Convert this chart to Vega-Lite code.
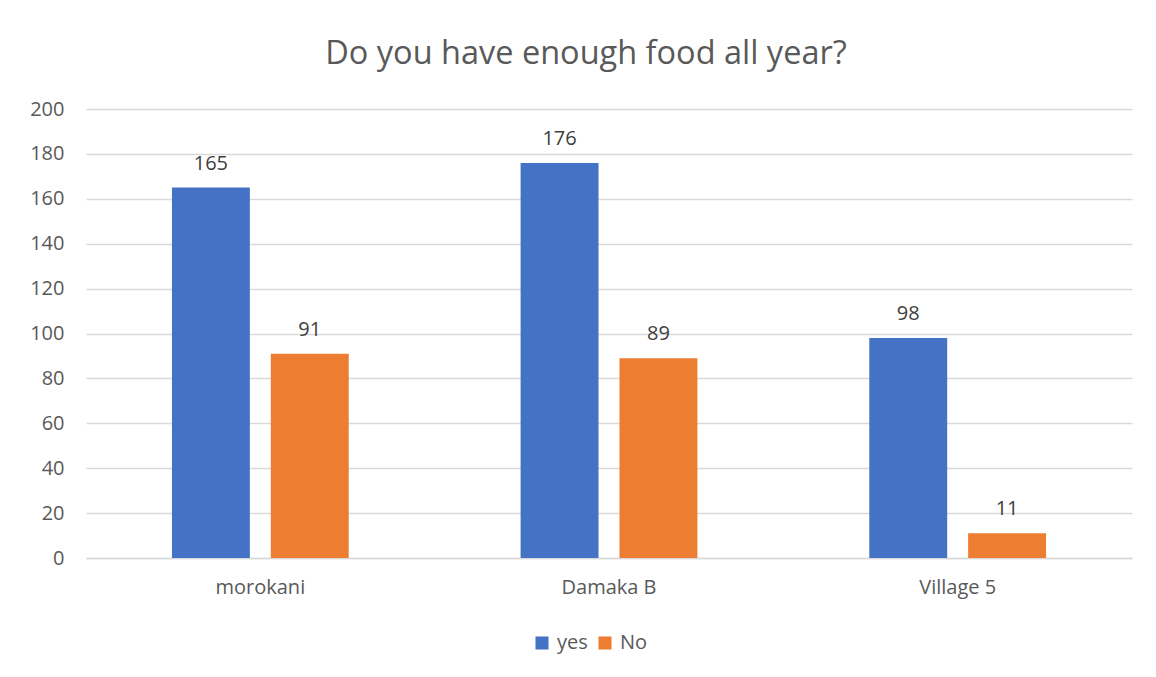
{
  "$schema": "https://vega.github.io/schema/vega-lite/v6.json",
  "autosize": "none",
  "width": 1046,
  "height": 449,
  "padding": {"left": 86, "top": 109, "right": 24, "bottom": 119},
  "background": "white",
  "config": {
    "font": "Open Sans",
    "view": {"stroke": null}
  },
  "title": {
    "text": "Do you have enough food all year?",
    "fontSize": 32.5,
    "font": "Open Sans",
    "fontWeight": "normal",
    "color": "#595959",
    "anchor": "middle",
    "dx": -23,
    "offset": 29
  },
  "data": {
    "values": [
      {"village": "morokani", "answer": "yes", "count": 165},
      {"village": "morokani", "answer": "No", "count": 91},
      {"village": "Damaka B", "answer": "yes", "count": 176},
      {"village": "Damaka B", "answer": "No", "count": 89},
      {"village": "Village 5", "answer": "yes", "count": 98},
      {"village": "Village 5", "answer": "No", "count": 11}
    ]
  },
  "encoding": {
    "x": {
      "field": "village",
      "type": "nominal",
      "sort": ["morokani", "Damaka B", "Village 5"],
      "scale": {"paddingInner": 0.493, "paddingOuter": 0.2465},
      "axis": {
        "title": null,
        "labelAngle": 0,
        "labelFontSize": 20,
        "labelColor": "#595959",
        "labelPadding": 19,
        "ticks": false,
        "domain": true,
        "domainColor": "#d9d9d9",
        "domainWidth": 1.5
      }
    },
    "xOffset": {
      "field": "answer",
      "type": "nominal",
      "sort": ["yes", "No"],
      "scale": {"paddingInner": 0.212, "paddingOuter": 0}
    },
    "y": {
      "field": "count",
      "type": "quantitative",
      "scale": {"domain": [0, 200]},
      "axis": {
        "title": null,
        "values": [0, 20, 40, 60, 80, 100, 120, 140, 160, 180, 200],
        "labelFontSize": 20,
        "labelColor": "#595959",
        "labelPadding": 22,
        "ticks": false,
        "domain": false,
        "grid": true,
        "gridColor": "#d9d9d9",
        "gridWidth": 1.5
      }
    }
  },
  "layer": [
    {
      "mark": {"type": "bar"},
      "encoding": {
        "color": {
          "field": "answer",
          "type": "nominal",
          "sort": ["yes", "No"],
          "scale": {"domain": ["yes", "No"], "range": ["#4472C4", "#ED7D31"]},
          "legend": {
            "title": null,
            "orient": "none",
            "direction": "horizontal",
            "legendX": 446,
            "legendY": 524,
            "symbolType": "square",
            "symbolSize": 170,
            "symbolStrokeWidth": 0,
            "symbolOpacity": 1,
            "labelFontSize": 20,
            "labelColor": "#595959",
            "labelOffset": 5,
            "columnPadding": 7
          }
        }
      }
    },
    {
      "mark": {"type": "text", "baseline": "alphabetic", "dy": -18, "fontSize": 20, "color": "#404040"},
      "encoding": {
        "text": {"field": "count", "type": "quantitative"}
      }
    }
  ]
}
